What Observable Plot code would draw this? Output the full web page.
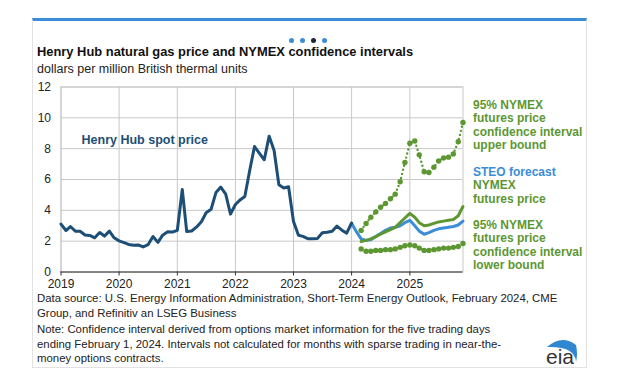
<!DOCTYPE html>
<html><head><meta charset="utf-8">
<script src="https://cdn.jsdelivr.net/npm/d3@7"></script>
<script src="https://cdn.jsdelivr.net/npm/@observablehq/plot@0.6"></script>
<style>
body{margin:0;background:#fff;width:619px;height:388px;overflow:hidden;font-family:"Liberation Sans",Arial,sans-serif;}
#wrap{position:relative;width:619px;height:388px;}
.abs{position:absolute;white-space:nowrap;}
#card{position:absolute;left:32px;top:18px;width:555px;height:350px;border:1px solid #e2e2e2;border-top:3px solid #3a8dd6;box-sizing:border-box;}
.dot{position:absolute;top:38px;width:5px;height:5px;border-radius:50%;background:#3a8dd6;}
.lab{font-weight:bold;font-size:12px;line-height:13.3px;}
.note{font-size:11.4px;line-height:14.6px;color:#222;}
#chart{position:absolute;left:0;top:80px;}
</style></head><body>
<div id="wrap">
  <div id="card"></div>
  <div class="dot" style="left:289px"></div>
  <div class="dot" style="left:300px"></div>
  <div class="dot" style="left:311px;background:#1a2634"></div>
  <div class="dot" style="left:322px"></div>
  <div class="abs" style="left:37px;top:44px;font-weight:bold;font-size:12.9px;color:#111">Henry Hub natural gas price and NYMEX confidence intervals</div>
  <div class="abs" style="left:37px;top:62px;font-size:12.5px;color:#222">dollars per million British thermal units</div>
  <div id="chart"></div>
  <div class="abs lab" style="left:473px;top:99px;color:#5d9732">95% NYMEX<br>futures price<br>confidence interval<br>upper bound</div>
  <div class="abs lab" style="left:473px;top:166px;color:#5d9732"><span style="color:#3a8dd6">STEO forecast</span><br>NYMEX<br>futures price</div>
  <div class="abs lab" style="left:473px;top:219px;color:#5d9732">95% NYMEX<br>futures price<br>confidence interval<br>lower bound</div>
  <div class="abs note" style="left:37px;top:291px">Data source: U.S. Energy Information Administration, Short-Term Energy Outlook, February 2024, CME<br>Group, and Refinitiv an LSEG Business</div>
  <div class="abs note" style="left:37px;top:322px">Note: Confidence interval derived from options market information for the five trading days<br>ending February 1, 2024. Intervals not calculated for months with sparse trading in near-the-<br>money options contracts.</div>
  <svg class="abs" style="left:540px;top:334px" width="42" height="34">
    <path d="M7 13 Q22 0 36 11 Q38 20 36 28 Q35 12 7 13 Z" fill="#2f86d1"/>
    <text x="6" y="30" font-size="21" fill="#333" font-family="Liberation Sans,Arial,sans-serif">eia</text>
  </svg>
</div>
<script>
// Henry Hub monthly spot price, Jan 2019 – Jan 2024
const hhStart = "2019-01-01";
const hhValues = [3.11,2.69,2.95,2.65,2.64,2.40,2.37,2.22,2.56,2.33,2.65,2.22,
  2.02,1.91,1.79,1.74,1.75,1.63,1.77,2.30,1.92,2.39,2.61,2.59,
  2.71,5.35,2.62,2.66,2.91,3.26,3.84,4.07,5.16,5.51,5.05,3.76,
  4.38,4.69,4.90,6.60,8.14,7.70,7.28,8.81,7.88,5.66,5.45,5.53,
  3.27,2.38,2.31,2.16,2.15,2.18,2.55,2.58,2.64,2.98,2.71,2.52,
  3.18];
// STEO forecast, Jan 2024 – Dec 2025
const steoStart = "2024-01-01";
const steoValues = [3.16,2.60,2.15,2.05,2.10,2.30,2.50,2.70,2.85,2.90,3.00,3.20,
  3.35,3.00,2.65,2.45,2.55,2.70,2.80,2.85,2.90,2.95,3.05,3.30];
// NYMEX futures and 95% confidence bounds, Mar 2024 – Dec 2025
const nymexStart = "2024-03-01";
const futuresValues = [1.98,2.05,2.15,2.30,2.45,2.60,2.75,2.90,3.20,3.50,
  3.80,3.55,3.20,3.00,3.05,3.15,3.25,3.30,3.35,3.40,3.65,4.25];
const upperValues = [2.70,3.15,3.55,3.90,4.20,4.45,4.75,5.05,5.85,7.10,
  8.35,8.50,7.60,6.50,6.45,6.80,7.20,7.40,7.45,7.65,8.45,9.70];
const lowerValues = [1.50,1.35,1.35,1.40,1.40,1.45,1.45,1.50,1.60,1.70,
  1.75,1.70,1.55,1.40,1.40,1.45,1.50,1.55,1.55,1.60,1.65,1.85];
const yearTicks = ["2019","2020","2021","2022","2023","2024","2025"];
const yTicks = [0,2,4,6,8,10,12];

const series = (start, vals) => {
  const s = new Date(start);
  return vals.map((v, i) => ({date: d3.utcMonth.offset(s, i), value: v}));
};
const hh = series(hhStart, hhValues);
const steo = series(steoStart, steoValues);
const fut = series(nymexStart, futuresValues);
const up = series(nymexStart, upperValues);
const lo = series(nymexStart, lowerValues);

const navy = "#1d4f76", blue = "#3a8dd6", green = "#5d9732";
const yearDates = yearTicks.map(y => new Date(y + "-01-01"));

const chart = Plot.plot({
  width: 619, height: 212,
  marginLeft: 60.5, marginRight: 156.5, marginTop: 6.5, marginBottom: 20.5,
  style: {fontFamily: "Liberation Sans, Arial, sans-serif", fontSize: "12px", color: "#222", background: "transparent"},
  x: {type: "utc", domain: [new Date(hhStart), new Date("2025-12-01")], ticks: yearDates, tickFormat: d3.utcFormat("%Y"), tickSize: 4, tickPadding: 3, label: null},
  y: {domain: [0, 12], ticks: yTicks, tickSize: 0, tickPadding: 10, label: null},
  marks: [
    Plot.gridX(yearDates, {stroke: "#c8c8c8", strokeOpacity: 1}),
    Plot.gridY(yTicks, {stroke: "#c8c8c8", strokeOpacity: 1}),
    Plot.frame({stroke: "#c8c8c8"}),
    Plot.ruleY([0], {stroke: "#333", strokeWidth: 1.2}),
    Plot.line(up, {x: "date", y: "value", stroke: green, strokeWidth: 2.4, strokeDasharray: "0 4.2", strokeLinecap: "round"}),
    Plot.dot(up, {x: "date", y: "value", r: 2.7, fill: green}),
    Plot.line(lo, {x: "date", y: "value", stroke: green, strokeWidth: 2.4, strokeDasharray: "0 4.2", strokeLinecap: "round"}),
    Plot.dot(lo, {x: "date", y: "value", r: 2.7, fill: green}),
    Plot.line(steo, {x: "date", y: "value", stroke: blue, strokeWidth: 3}),
    Plot.line(fut, {x: "date", y: "value", stroke: green, strokeWidth: 3}),
    Plot.line(hh, {x: "date", y: "value", stroke: navy, strokeWidth: 3}),
    Plot.text(["Henry Hub spot price"], {x: new Date("2019-05-10"), y: 8.55, text: d => d, textAnchor: "start", fill: navy, fontWeight: "bold", fontSize: 12.5}),
    Plot.axisX({ticks: yearDates, tickFormat: d3.utcFormat("%Y"), tickSize: 4, tickPadding: 3, stroke: "#333", fill: "#222", fontSize: 12}),
    Plot.axisY({ticks: yTicks, tickSize: 0, tickPadding: 10, fill: "#222", fontSize: 12})
  ]
});
document.getElementById("chart").appendChild(chart);
</script>
</body></html>
